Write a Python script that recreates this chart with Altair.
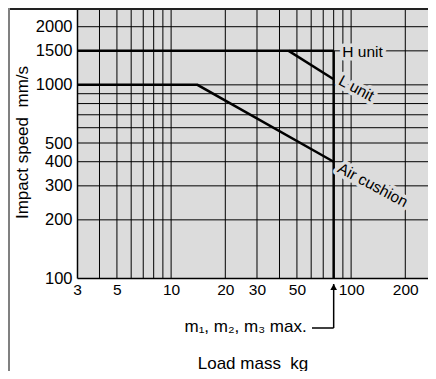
import altair as alt
import pandas as pd

# ---- data ----
h_x = [3, 80]
h_y = [1500, 1500]
l_x = [45, 80]
l_y = [1500, 1070]
air_x = [3, 14, 80]
air_y = [1000, 1000, 400]
max_x = [80, 80]
max_y = [1500, 100]

x_grid = [4, 5, 6, 7, 8, 9, 10, 20, 30, 40, 50, 60, 70, 80, 90, 100, 200]
y_grid = [200, 300, 400, 500, 600, 700, 800, 900, 1000, 1500, 2000]
x_ticks = [3, 5, 10, 20, 30, 50, 100, 200]
y_ticks = [100, 200, 300, 400, 500, 1000, 1500, 2000]

label_text = ["H unit", "L unit", "Air cushion"]
label_x = [89.4, 84.0, 83.0]
label_y = [1394, 1010, 356]
label_angle = [0, 28, 28]

max_mass = [80]
max_label = ["m\u2081, m\u2082, m\u2083 max."]

FONT = "Liberation Sans"
BG = "#dcdcdc"

xs = alt.Scale(type="log", domain=[3, 267.4], nice=False)
ys = alt.Scale(type="log", domain=[100, 2500], nice=False)

lines = pd.DataFrame(
    {
        "x": h_x + l_x + air_x + max_x,
        "y": h_y + l_y + air_y + max_y,
        "s": ["H"] * len(h_x) + ["L"] * len(l_x) + ["Air"] * len(air_x) + ["Max"] * len(max_x),
        "o": list(range(len(h_x))) + list(range(len(l_x))) + list(range(len(air_x))) + list(range(len(max_x))),
    }
)
xg = pd.DataFrame({"x": x_grid})
yg = pd.DataFrame({"y": y_grid})
lab = pd.DataFrame({"t": label_text, "x": label_x, "y": label_y, "a": label_angle})
mm = pd.DataFrame({"x": max_mass, "t": max_label})

x_axis = alt.Axis(
    values=x_ticks, grid=False, ticks=False, labelFontSize=15.5, labelFont=FONT,
    labelColor="black", labelPadding=4, labelOverlap=False, labelFlush=False,
    domainColor="black", domainWidth=1.5, format="d",
    title="Load mass\u00a0 kg", titleFont=FONT, titleFontSize=17, titleFontWeight="normal",
    titleColor="black", titleY=90, titleBaseline="alphabetic",
)
y_axis = alt.Axis(
    values=y_ticks, grid=False, ticks=False, labelFontSize=16.5, labelFont=FONT,
    labelColor="black", labelPadding=5, labelOverlap=False, labelFlush=False,
    domainColor="black", domainWidth=1.5, format="d",
    title="Impact speed\u00a0 mm/s", titleFont=FONT, titleFontSize=17, titleFontWeight="normal",
    titleColor="black", titleX=-55, titleY=134, titleAngle=-90, titleAlign="center",
    titleBaseline="middle",
)


def X():
    return alt.X("x:Q", scale=xs, axis=x_axis)


def Y():
    return alt.Y("y:Q", scale=ys, axis=y_axis)


gx = alt.Chart(xg).mark_rule(color="black", strokeWidth=1).encode(x=X())
gy = alt.Chart(yg).mark_rule(color="black", strokeWidth=1).encode(y=Y())
data_lines = alt.Chart(lines).mark_line(color="black", strokeWidth=2.5).encode(
    x=X(), y=Y(), detail="s:N", order="o:Q",
)
halo = alt.Chart(lab).mark_text(
    font=FONT, fontSize=15.5, align="left", baseline="alphabetic",
    stroke=BG, strokeWidth=7, fill=BG, strokeJoin="round",
).encode(x=X(), y=Y(), text="t:N", angle=alt.Angle("a:Q", scale=None))
texts = alt.Chart(lab).mark_text(
    font=FONT, fontSize=15.5, align="left", baseline="alphabetic", color="black",
).encode(x=X(), y=Y(), text="t:N", angle=alt.Angle("a:Q", scale=None))

# annotation below the axis
ann_v = alt.Chart(mm).mark_rule(color="black", strokeWidth=1.5).encode(
    x=X(), y=alt.value(276), y2=alt.value(320)
)
ann_h = alt.Chart(mm).mark_rule(color="black", strokeWidth=1.5).encode(
    x=X(), x2=alt.value(235), y=alt.value(320)
)
ann_head = alt.Chart(mm).mark_point(
    shape="triangle-up", filled=True, size=45, color="black", opacity=1
).encode(x=X(), y=alt.value(279))
ann_text = alt.Chart(mm).mark_text(
    font=FONT, fontSize=17, align="right", baseline="alphabetic", color="black", dx=-27
).encode(x=X(), y=alt.value(324), text="t:N")

# outer frame (top and left)
frame_top = alt.Chart(mm).mark_rule(color="#222222", strokeWidth=2).encode(
    x=alt.value(-69), x2=alt.value(351), y=alt.value(1)
)
frame_left = alt.Chart(mm).mark_rule(color="#808080", strokeWidth=2).encode(
    x=alt.value(-68), y=alt.value(0), y2=alt.value(363)
)

chart = alt.layer(
    gx, gy, data_lines, halo, texts, ann_v, ann_h, ann_head, ann_text, frame_top, frame_left
).properties(
    width=351,
    height=270,
    autosize=alt.AutoSizeParams(type="none"),
    padding={"left": 69, "top": 0, "right": 0, "bottom": 93},
    background="white",
).configure_view(fill=BG, stroke="transparent")

chart.save("out.html", embed_options={"renderer": "svg", "actions": False})
